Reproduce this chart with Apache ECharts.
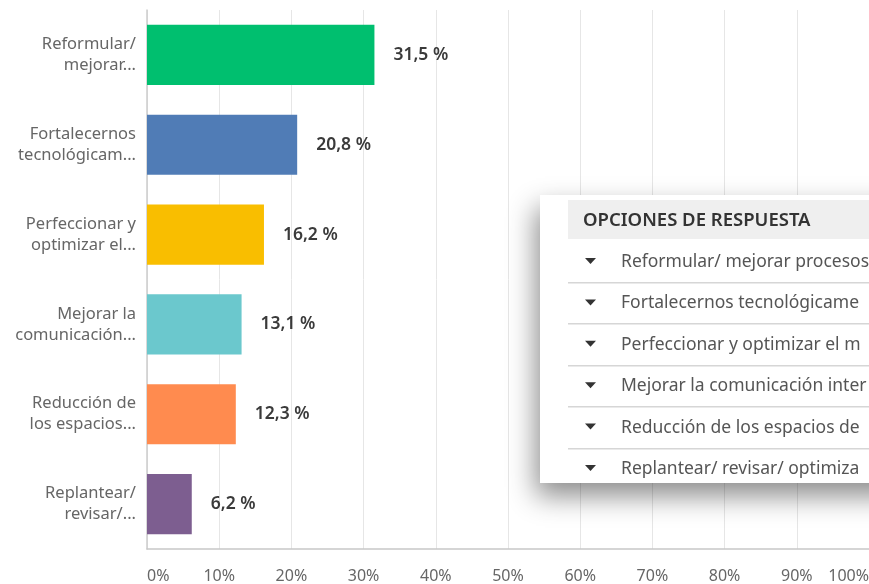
<!DOCTYPE html>
<html>
<head>
<meta charset="utf-8">
<script src="https://cdn.jsdelivr.net/npm/echarts@6/dist/echarts.min.js"></script>
<style>
  html, body { margin: 0; padding: 0; background: #fff; }
  #chart { width: 869px; height: 584px; }
</style>
</head>
<body>
<div id="chart"></div>
<script>
// etiquetas cortas del eje
var categorias = [
    'Reformular/\nmejorar...', 'Fortalecernos\ntecnológicam...', 'Perfeccionar y\noptimizar el...',
    'Mejorar la\ncomunicación...', 'Reducción de\nlos espacios...', 'Replantear/\nrevisar/...'
];
// texto de la tabla de opciones (solo lo que se ve, cortado por el borde)
var opciones = [
    'Reformular/ mejorar procesos', 'Fortalecernos tecnológicame',
    'Perfeccionar y optimizar el m', 'Mejorar la comunicación inter',
    'Reducción de los espacios de', 'Replantear/ revisar/ optimiza'
];
var valores = [31.5, 20.8, 16.2, 13.1, 12.3, 6.2];
var colores = ['#00BF6F', '#507CB6', '#F9BE00', '#6BC8CD', '#FF8B4F', '#7D5E90'];

var fuente = '"Noto Sans", sans-serif';
var myChart = echarts.init(document.getElementById('chart'));

// tabla flotante "OPCIONES DE RESPUESTA"
var tabla = [
    {
        type: 'rect', left: 540, top: 195, z: 100,
        shape: {width: 400, height: 288},
        style: {fill: '#fff', shadowBlur: 26, shadowOffsetX: -4, shadowOffsetY: 13, shadowColor: 'rgba(0,0,0,0.45)'}
    },
    {
        type: 'rect', left: 568, top: 200, z: 101,
        shape: {width: 320, height: 39},
        style: {fill: '#EFEFEF'}
    },
    {
        type: 'text', x: 583, y: 220.5, z: 102,
        style: {text: 'OPCIONES DE RESPUESTA', fill: '#333', font: '600 18.5px ' + fuente, verticalAlign: 'middle'}
    }
];
opciones.forEach(function (txt, i) {
    var cy = 261 + i * 41.4;
    tabla.push({
        type: 'polygon', z: 102,
        shape: {points: [[585, cy - 3], [596, cy - 3], [590.5, cy + 3]]},
        style: {fill: '#333'}
    });
    tabla.push({
        type: 'text', x: 621, y: cy + 1, z: 102,
        style: {text: txt, fill: '#555', font: '17.5px ' + fuente, verticalAlign: 'middle'}
    });
    if (i < opciones.length - 1) {
        tabla.push({
            type: 'rect', left: 568, top: Math.round(cy + 21), z: 102,
            shape: {width: 320, height: 1.5},
            style: {fill: '#D6D6D6'}
        });
    }
});

var option = {
    backgroundColor: '#FFFFFF',
    animation: false,
    grid: {left: 147, right: 0, top: 10, bottom: 35, containLabel: false, outerBoundsMode: 'none'},
    xAxis: {
        type: 'value',
        min: 0,
        max: 100,
        interval: 10,
        axisLine: {show: true, lineStyle: {color: '#C8C8C8', width: 1.5}},
        axisTick: {show: false},
        splitLine: {show: true, lineStyle: {color: '#E6E6E6'}},
        axisLabel: {
            formatter: '{value}%',
            margin: 19,
            color: '#666',
            fontSize: 16,
            fontFamily: fuente,
            alignMinLabel: 'left',
            alignMaxLabel: 'right'
        }
    },
    yAxis: {
        type: 'category',
        inverse: true,
        data: categorias,
        axisLine: {show: true, lineStyle: {color: '#CCCCCC', width: 1.5}},
        axisTick: {show: false},
        axisLabel: {
            margin: 11,
            color: '#666',
            fontSize: 16.5,
            lineHeight: 21,
            fontFamily: fuente
        }
    },
    series: [{
        type: 'bar',
        barCategoryGap: '33%',
        data: valores.map(function (v, i) {
            return {value: v, itemStyle: {color: colores[i]}};
        }),
        label: {
            show: true,
            position: 'right',
            distance: 19,
            color: '#3a3a3a',
            fontSize: 17.5,
            fontWeight: 600,
            fontFamily: fuente,
            formatter: function (p) {
                return p.value.toFixed(1).replace('.', ',') + ' %';
            }
        }
    }],
    graphic: tabla
};
myChart.setOption(option);
</script>
</body>
</html>
